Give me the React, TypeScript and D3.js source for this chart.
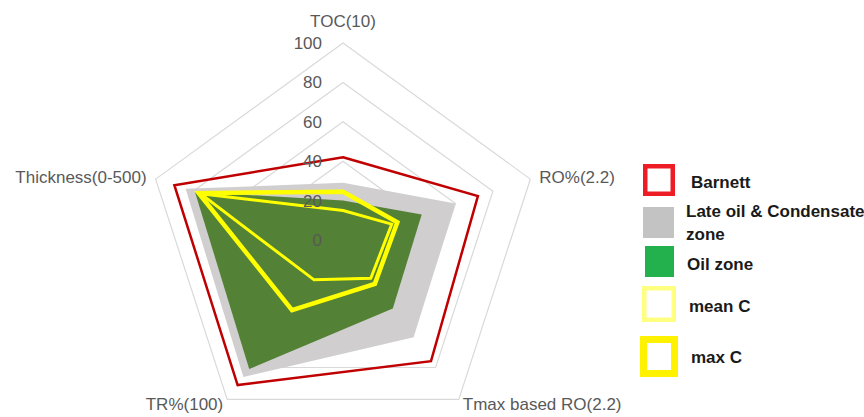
import React from "react";
import * as d3 from "d3";

const axes = ["TOC(10)", "RO%(2.2)", "Tmax based RO(2.2)", "TR%(100)", "Thickness(0-500)"];
const ticks = [0, 20, 40, 60, 80, 100];
const barnett = [42, 72, 76, 91, 90];
const lateOil = [29, 60, 61, 86, 84];
const oilZone = [20, 42, 43, 81, 79];
const meanC = [15, 26, 24, 25, 76];
const maxC = [24.5, 29, 27.5, 44, 77];

const legendItems = [
  { label: ["Barnett"], kind: "outline", color: "#EE1C25", sw: 4.5 },
  { label: ["Late oil & Condensate", "zone"], kind: "fill", color: "#C3C3C3" },
  { label: ["Oil zone"], kind: "fill", color: "#22B14C" },
  { label: ["mean C"], kind: "outline", color: "#FFFF80", sw: 4.5 },
  { label: ["max C"], kind: "outline", color: "#FFF200", sw: 7 },
];

export default function App() {
  const W = 864, H = 417;
  const cx = 343, cy = 240;
  const r = d3.scaleLinear().domain([0, 100]).range([0, 197]);
  const n = axes.length;
  const ang = (i: number) => (i * 2 * Math.PI) / n;
  const pt = (i: number, v: number): [number, number] => [
    cx + r(v) * Math.sin(ang(i)),
    cy - r(v) * Math.cos(ang(i)),
  ];
  const line = d3.line().curve(d3.curveLinearClosed);
  const poly = (vals: number[]) => line(vals.map((v, i) => pt(i, v))) as string;

  const font = "'Liberation Sans', Arial, sans-serif";
  const labelPos = [
    { dx: 0, dy: -16, anchor: "middle" },
    { dx: 9, dy: 4, anchor: "start" },
    { dx: 4, dy: 11, anchor: "start" },
    { dx: -4, dy: 11, anchor: "end" },
    { dx: -9, dy: 4, anchor: "end" },
  ];

  const legendSize = [
    [643, 164, 32, 32],
    [643, 207, 31, 31],
    [645, 246, 29, 31],
    [642, 286, 34, 36],
    [640, 336, 38, 41],
  ];
  const legendTextY = [[188], [217, 240], [270], [312], [363]];
  const legendTextX = [691, 686, 687, 689, 691];

  return (
    <svg width={W} height={H} style={{ position: "absolute", left: 0, top: 0, background: "#fff" }}>
      {/* grid rings */}
      {ticks.filter((t) => t > 0).map((t) => (
        <path key={t} d={poly(axes.map(() => t))} fill="none" stroke="#D9D9D9" strokeWidth={1.2} />
      ))}
      {/* series */}
      <path d={poly(lateOil)} fill="#D0CECE" stroke="none" />
      <path d={poly(oilZone)} fill="#538135" stroke="none" />
      <path d={poly(barnett)} fill="none" stroke="#C00000" strokeWidth={2.5} strokeLinejoin="miter" />
      <path d={poly(maxC)} fill="none" stroke="#FFFF00" strokeWidth={4.5} strokeLinejoin="miter" />
      <path d={poly(meanC)} fill="none" stroke="#FFFF00" strokeWidth={3} strokeLinejoin="miter" />
      {/* tick labels */}
      {ticks.map((t) => (
        <text key={t} x={cx - 21} y={cy - r(t) + 6} textAnchor="end" fontFamily={font} fontSize={17} fill="#595959">
          {t}
        </text>
      ))}
      {/* axis labels */}
      {axes.map((a, i) => {
        const [x, y] = pt(i, 100);
        const p = labelPos[i];
        return (
          <text key={a} x={x + p.dx} y={y + p.dy} textAnchor={p.anchor as any} fontFamily={font} fontSize={17} fill="#595959">
            {a}
          </text>
        );
      })}
      {/* legend */}
      {legendItems.map((it, i) => {
        const [x, y, w, h] = legendSize[i];
        const sw = it.sw || 0;
        return (
          <g key={i}>
            {it.kind === "fill" ? (
              <rect x={x} y={y} width={w} height={h} fill={it.color} />
            ) : (
              <rect x={x + sw / 2} y={y + sw / 2} width={w - sw} height={h - sw} fill="#fff" stroke={it.color} strokeWidth={sw} />
            )}
            {it.label.map((l, j) => (
              <text key={j} x={legendTextX[i]} y={legendTextY[i][j]} fontFamily={font} fontWeight="bold" fontSize={17} fill="#1a1a1a">
                {l}
              </text>
            ))}
          </g>
        );
      })}
    </svg>
  );
}
